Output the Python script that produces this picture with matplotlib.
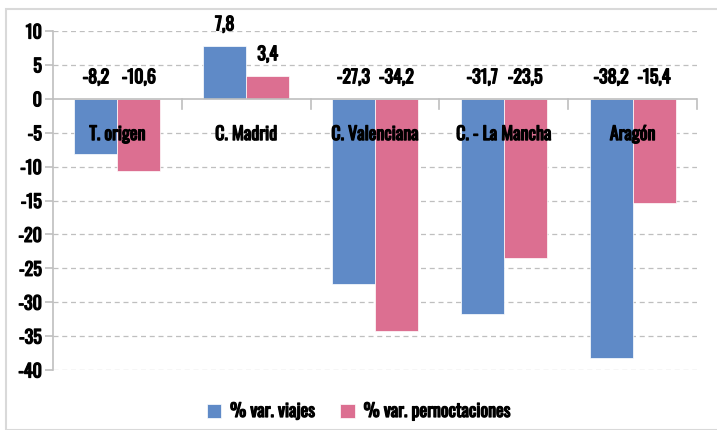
import numpy as np
import matplotlib.pyplot as plt
import matplotlib.patheffects as pe
from matplotlib.patches import Rectangle

categories = ["T. origen", "C. Madrid", "C. Valenciana", "C. - La Mancha", "Aragón"]
viajes = [-8.2, 7.8, -27.3, -31.7, -38.2]
pernoctaciones = [-10.6, 3.4, -34.2, -23.5, -15.4]
series_names = ["% var. viajes", "% var. pernoctaciones"]
yticks = [10, 5, 0, -5, -10, -15, -20, -25, -30, -35, -40]

blue = "#5f8ac7"
pink = "#dc6f91"
fam = ["Oswald", "DejaVu Sans"]
# Oswald has no bold here, so thicken it with a stroke
bold = [pe.withStroke(linewidth=0.9, foreground="black")]
font = dict(family=fam, fontsize=13, path_effects=bold)


def fmt(v):
    return f"{v:.1f}".replace(".", ",")


fig = plt.figure(figsize=(7.17, 4.31), dpi=100)
fig.patches.append(Rectangle((6 / 717, 0), 1, 1 - 10 / 431, transform=fig.transFigure,
                             fill=False, edgecolor="#d9d9d9", linewidth=1.5))
ax = fig.add_axes([53 / 717, 1 - 371 / 431, 644 / 717, 339 / 431])

x = np.arange(len(categories))
w = 1 / 3
b1 = ax.bar(x - w / 2, viajes, w, color=blue, edgecolor="white", linewidth=0.5,
            label=series_names[0], zorder=3)
b2 = ax.bar(x + w / 2, pernoctaciones, w, color=pink, edgecolor="white", linewidth=0.5,
            label=series_names[1], zorder=3)

for bars, vals in [(b1, viajes), (b2, pernoctaciones)]:
    for bar, v in zip(bars, vals):
        ax.annotate(fmt(v), (bar.get_x() + bar.get_width() / 2, max(v, 0)),
                    xytext=(0, 9), textcoords="offset points", ha="center", va="bottom",
                    zorder=5, **font)

for i, c in enumerate(categories):
    ax.text(i, -5.2, c, ha="center", va="center", zorder=5, **font)

ax.set_xlim(-0.5, len(categories) - 0.5)
ax.set_ylim(-40, 10)
ax.set_yticks(yticks)
ax.set_yticklabels([str(t) for t in yticks], **font)
for t in yticks:
    if t != 0:
        ax.axhline(t, color="#bfbfbf", linestyle=(0, (4, 3)), linewidth=0.9, zorder=1)
ax.axhline(0, color="#bfbfbf", linewidth=1.2, zorder=4)
for b in np.arange(0.5, len(categories) - 0.5 + 1e-9, 1.0):
    ax.plot([b, b], [0, -1.5], color="#bfbfbf", linewidth=1.2, zorder=4, clip_on=False)

ax.set_xticks([])
for s in ["top", "right", "bottom"]:
    ax.spines[s].set_visible(False)
ax.spines["left"].set_color("#bfbfbf")
ax.spines["left"].set_linewidth(1.2)
ax.tick_params(axis="y", color="#bfbfbf", length=6, width=1.2, pad=2)

leg = fig.legend(loc="center", bbox_to_anchor=(0.5, 1 - 412 / 431), ncol=2, frameon=False,
                 prop=dict(family=fam, size=13),
                 handlelength=0.8, handleheight=0.8, columnspacing=1.4, handletextpad=0.5)
for t in leg.get_texts():
    t.set_path_effects(bold)

fig.savefig("out.png", dpi=100)
